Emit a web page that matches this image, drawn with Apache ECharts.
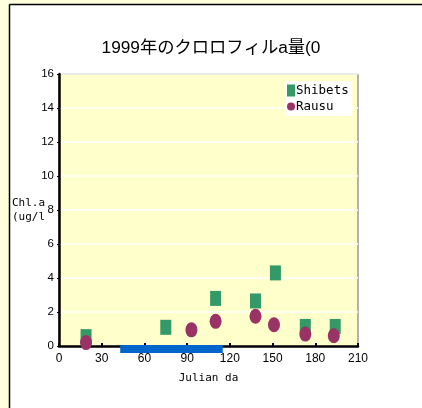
<!DOCTYPE html>
<html>
<head>
<meta charset="utf-8">
<script src="https://cdn.jsdelivr.net/npm/echarts@6/dist/echarts.min.js"></script>
<style>html,body{margin:0;padding:0;background:#FFFFDD;overflow:hidden;}#c{width:422px;height:408px;}</style>
</head>
<body>
<div id="c"></div>
<script>
const titleText = '1999年のクロロフィルa量(0';
const shibetsDays = [19, 75, 110, 138, 152, 173, 194];
const shibetsVals = [0.55, 1.1, 2.8, 2.65, 4.3, 1.15, 1.15];
const rausuDays = [19, 93, 110, 138, 151, 173, 193];
const rausuVals = [0.2, 0.95, 1.45, 1.75, 1.25, 0.7, 0.6];
const periodRange = [43, 115];
const xTicks = [0, 30, 60, 90, 120, 150, 180, 210];
const yTicks = [0, 2, 4, 6, 8, 10, 12, 14, 16];

const chart = echarts.init(document.getElementById('c'), null, {renderer: 'canvas'});
const monoFont = '"DejaVu Sans Mono", "Liberation Mono", monospace';
const sansFont = '"Liberation Sans", Arial, "Noto Sans CJK JP", sans-serif';
chart.setOption({
  animation: false,
  backgroundColor: '#FFFFDD',
  graphic: [
    {type: 'rect', z: -10, silent: true, shape: {x: 9, y: 4, width: 700, height: 700}, style: {fill: '#FFFFFF'}},
    {type: 'line', z: -9, silent: true, shape: {x1: 9.5, y1: 4.5, x2: 9.5, y2: 420}, style: {stroke: '#000', lineWidth: 1.5}},
    {type: 'line', z: -9, silent: true, shape: {x1: 9.5, y1: 4.5, x2: 430, y2: 4.5}, style: {stroke: '#000', lineWidth: 1.5}}
  ],
  title: {
    text: titleText, left: 'center', top: 35,
    textStyle: {fontFamily: sansFont, fontSize: 17.3, fontWeight: 'normal', color: '#000'}
  },
  legend: {
    left: 285, top: 81, orient: 'vertical', itemGap: 3,
    backgroundColor: '#FFFFFF', padding: [3, 3, 3, 2],
    itemWidth: 8, itemHeight: 12,
    textStyle: {fontFamily: monoFont, fontSize: 12.5, color: '#000', padding: [0, 0, 0, -4]},
    data: [{name: 'Shibets', icon: 'rect'}, {name: 'Rausu', icon: 'circle'}]
  },
  grid: {left: 59, top: 74, right: 64, bottom: 62, show: true, backgroundColor: '#FFFFCC', borderColor: '#666', borderWidth: 1},
  xAxis: {
    type: 'value', min: 0, max: 210, interval: 30,
    name: 'Julian da', nameLocation: 'middle', nameGap: 27, nameMoveOverlap: false,
    nameTextStyle: {fontFamily: monoFont, fontSize: 11, color: '#000'},
    axisLine: {lineStyle: {color: '#000', width: 2.5}},
    axisTick: {show: true, inside: true, length: 3, lineStyle: {color: '#000', width: 2}},
    axisLabel: {fontFamily: sansFont, fontSize: 12, color: '#000', margin: 7,
      formatter: v => xTicks.includes(v) ? String(v) : ''},
    splitLine: {show: false}
  },
  yAxis: {
    type: 'value', min: 0, max: 16, interval: 2,
    name: 'Chl.a\n(ug/l', nameLocation: 'middle', nameRotate: 0, nameGap: 14, nameMoveOverlap: false,
    nameTextStyle: {fontFamily: monoFont, fontSize: 11, color: '#000', lineHeight: 14},
    axisLine: {lineStyle: {color: '#000', width: 2.5}},
    axisTick: {show: true, length: 2, lineStyle: {color: '#000'}},
    axisLabel: {fontFamily: sansFont, fontSize: 11.5, color: '#000', margin: 5,
      formatter: v => yTicks.includes(v) ? String(v) : ''},
    splitLine: {show: true, lineStyle: {color: '#FFFFFF', width: 1.5}}
  },
  series: [
    {
      name: 'Shibets', type: 'scatter', symbol: 'rect', symbolSize: [11, 15],
      itemStyle: {color: '#339966', opacity: 1},
      data: shibetsDays.map((d, i) => [d, shibetsVals[i]]), z: 3
    },
    {
      name: 'Rausu', type: 'scatter', symbol: 'circle', symbolSize: [12, 15],
      itemStyle: {color: '#993366', opacity: 1},
      data: rausuDays.map((d, i) => [d, rausuVals[i]]), z: 4
    },
    {
      name: 'period', type: 'custom', clip: false, z: 1,
      data: [[periodRange[0], periodRange[1]]],
      renderItem: (params, api) => {
        const p0 = api.coord([api.value(0), 0]);
        const p1 = api.coord([api.value(1), 0]);
        return {type: 'rect', shape: {x: p0[0], y: p0[1] - 1, width: p1[0] - p0[0], height: 8},
          style: {fill: '#0066CC'}};
      }
    }
  ]
});
</script>
</body>
</html>
